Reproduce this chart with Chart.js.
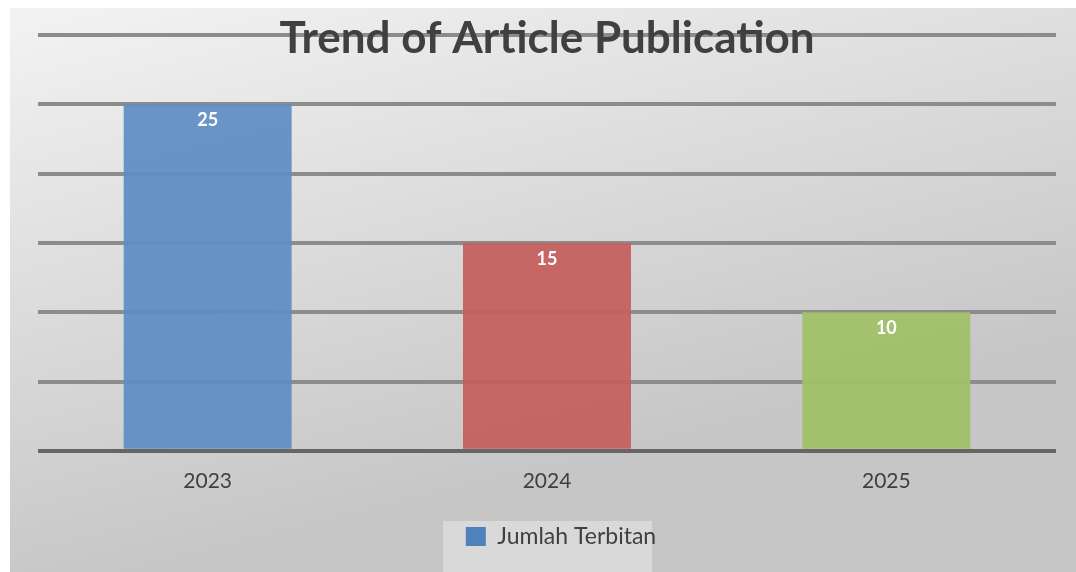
<!DOCTYPE html>
<html>
<head>
<meta charset="utf-8">
<script src="https://cdn.jsdelivr.net/npm/chart.js@4.4.1/dist/chart.umd.min.js"></script>
<style>
  html, body { margin: 0; padding: 0; background: #ffffff; }
  #wrap { width: 1076px; height: 572px; position: relative; }
</style>
</head>
<body>
<div id="wrap"><canvas id="chart-container"></canvas></div>
<script>
const years = ['2023', '2024', '2025'];
const articleCounts = [25, 15, 10];
const barColors = ['rgba(95,141,196,0.93)', 'rgba(197,94,93,0.93)', 'rgba(160,192,104,0.95)'];
const seriesLabel = 'Jumlah Terbitan';
const chartTitle = 'Trend of Article Publication';

const FONT = 'Lato, "Liberation Sans", sans-serif';

// gray gradient panel behind everything, plus the lighter legend box
const panelPlugin = {
  id: 'panel',
  afterLayout(chart) {
    // legend sits a bit right of the plot centre in the original
    chart.legend.left += 14;
    chart.legend.right += 14;
  },
  beforeDraw(chart) {
    const ctx = chart.ctx;
    ctx.save();
    const g = ctx.createLinearGradient(10, 8, 150, 572);
    g.addColorStop(0, '#f3f3f3');
    g.addColorStop(1, '#c6c6c6');
    ctx.fillStyle = g;
    ctx.fillRect(10, 8, chart.width - 10, chart.height - 8);
    ctx.fillStyle = 'rgba(235,235,235,0.5)';
    ctx.fillRect(443, 521, 209, chart.height - 521);
    ctx.restore();
  }
};

// value labels inside the bars and the title over the top gridline
const labelPlugin = {
  id: 'labels',
  afterDatasetsDraw(chart) {
    const ctx = chart.ctx;
    ctx.save();
    ctx.fillStyle = '#ffffff';
    ctx.font = 'bold 18px ' + FONT;
    ctx.textAlign = 'center';
    ctx.textBaseline = 'middle';
    chart.getDatasetMeta(0).data.forEach(function(bar, i) {
      ctx.fillText(String(articleCounts[i]), bar.x, bar.y + 16);
    });
    ctx.fillStyle = '#404040';
    ctx.font = 'bold 44px ' + FONT;
    ctx.textBaseline = 'alphabetic';
    ctx.fillText(chartTitle, 547, 53);
    ctx.restore();
  }
};

new Chart(document.getElementById('chart-container'), {
  type: 'bar',
  data: {
    labels: years,
    datasets: [{
      label: seriesLabel,
      data: articleCounts,
      backgroundColor: barColors,
      borderWidth: 0,
      categoryPercentage: 1.0,
      barPercentage: 0.495
    }]
  },
  options: {
    responsive: true,
    maintainAspectRatio: false,
    animation: false,
    layout: { padding: { left: 38, right: 20, top: 35, bottom: 14 } },
    plugins: {
      title: { display: false },
      tooltip: { enabled: false },
      legend: {
        position: 'bottom',
        labels: {
          boxWidth: 20,
          boxHeight: 19,
          padding: 21,
          color: '#404040',
          font: { family: FONT, size: 23 },
          generateLabels(chart) {
            const items = Chart.defaults.plugins.legend.labels.generateLabels(chart);
            items.forEach(function(it) { it.fillStyle = '#4f81bd'; it.lineWidth = 0; });
            return items;
          }
        }
      }
    },
    scales: {
      x: {
        grid: { display: false },
        border: { display: false },
        ticks: { color: '#404040', font: { family: FONT, size: 21 }, padding: 10 }
      },
      y: {
        min: 0,
        max: 30,
        ticks: { display: false, stepSize: 5 },
        border: { display: false },
        grid: {
          drawTicks: false,
          lineWidth: 4,
          color: function(c) { return c.tick.value === 0 ? '#666666' : '#8c8c8c'; }
        }
      }
    }
  },
  plugins: [panelPlugin, labelPlugin]
});
</script>
</body>
</html>
